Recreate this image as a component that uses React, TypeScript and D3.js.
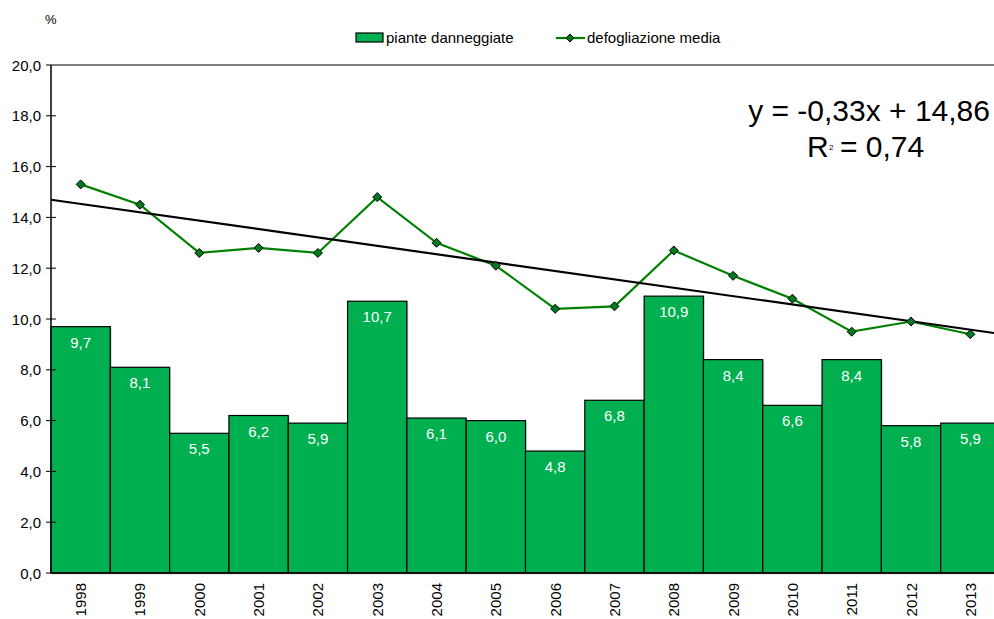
import React from "react";
import * as d3 from "d3";

const years = ["1998","1999","2000","2001","2002","2003","2004","2005","2006","2007","2008","2009","2010","2011","2012","2013"];
const piante = [9.7, 8.1, 5.5, 6.2, 5.9, 10.7, 6.1, 6.0, 4.8, 6.8, 10.9, 8.4, 6.6, 8.4, 5.8, 5.9];
const defogliazione = [15.3, 14.5, 12.6, 12.8, 12.6, 14.8, 13.0, 12.1, 10.4, 10.5, 12.7, 11.7, 10.8, 9.5, 9.9, 9.4];
const yTicks = [0, 2, 4, 6, 8, 10, 12, 14, 16, 18, 20];
const trendSlope = -0.33;
const trendIntercept = 14.86;

const W = 994, H = 619;
const left = 51, right = 1000, top = 65, bottom = 573;
const font = "Liberation Sans, Arial, sans-serif";
const fmt = (v: number) => v.toFixed(1).replace(".", ",");

export default function App() {
  const x = d3.scaleBand<string>().domain(years).range([left, right]).padding(0);
  const y = d3.scaleLinear().domain([0, 20]).range([bottom, top]);
  const cx = (i: number) => (x(years[i]) as number) + x.bandwidth() / 2;
  const line = d3.line<number>().x((_, i) => cx(i)).y((d) => y(d));
  const xLin = d3.scaleLinear().domain([0.5, 16.5]).range([left, right]);
  const trend = (t: number) => trendIntercept + trendSlope * t;
  const diamond = (px: number, py: number, r = 4.5) => `M${px},${py - r}L${px + r},${py}L${px},${py + r}L${px - r},${py}Z`;

  return (
    <svg width={W} height={H} style={{ position: "absolute", left: 0, top: 0 }} fontFamily={font}>
      <rect width={W} height={H} fill="#fff" />
      {/* bars */}
      {piante.map((v, i) => (
        <g key={years[i]}>
          <rect x={(x(years[i]) as number) + 1.5} y={y(v) + 1.5} width={x.bandwidth()} height={bottom - y(v)} fill="#bbb" opacity={0.6} />
          <rect x={x(years[i])} y={y(v)} width={x.bandwidth()} height={bottom - y(v)} fill="#00B050" stroke="#000" strokeWidth={1.2} />
          <text x={cx(i)} y={y(v) + 21} textAnchor="middle" fill="#fff" fontSize={15}>{fmt(v)}</text>
        </g>
      ))}
      {/* frame top */}
      <line x1={left} x2={W} y1={top} y2={top} stroke="#000" strokeWidth={1.2} />
      {/* y axis */}
      <line x1={left} x2={left} y1={top} y2={bottom} stroke="#000" strokeWidth={1.5} />
      <line x1={left} x2={W} y1={bottom} y2={bottom} stroke="#000" strokeWidth={1.5} />
      {yTicks.map((t) => (
        <g key={t}>
          <line x1={left - 5} x2={t === 0 || t === 20 ? left : left + 5} y1={y(t)} y2={y(t)} stroke="#000" strokeWidth={1} />
          <text x={left - 10} y={y(t) + 5.5} textAnchor="end" fontSize={15} fill="#000">{fmt(t)}</text>
        </g>
      ))}
      <text x={45} y={24} fontSize={13} fill="#000">%</text>
      {/* x labels */}
      {years.map((yr, i) => (
        <text key={yr} transform={`translate(${cx(i) + 5.5},${bottom + 10}) rotate(-90)`} textAnchor="end" fontSize={15} fill="#000">{yr}</text>
      ))}
      {/* defogliazione line */}
      <path d={line(defogliazione) || ""} fill="none" stroke="#008000" strokeWidth={2.2} />
      {/* trend line */}
      <line x1={left} x2={W} y1={y(trend(0.5))} y2={y(trend(xLin.invert(W)))} stroke="#000" strokeWidth={2.2} />
      {defogliazione.map((v, i) => (
        <path key={i} d={diamond(cx(i), y(v))} fill="#007A1E" stroke="#000" strokeWidth={1} />
      ))}
      {/* equation */}
      <text x={990} y={121} textAnchor="end" fontSize={30} fill="#000">y = -0,33x + 14,86</text>
      <text x={807} y={157} fontSize={30} fill="#000">R</text>
      <text x={829} y={150} fontSize={8} fill="#000">2</text>
      <text x={840} y={157} fontSize={30} fill="#000">= 0,74</text>
      {/* legend */}
      <rect x={356} y={33} width={27} height={9} fill="#00B050" stroke="#000" strokeWidth={1.2} />
      <text x={386} y={43} fontSize={15} fill="#000">piante danneggiate</text>
      <line x1={556} x2={585} y1={38} y2={38} stroke="#008000" strokeWidth={2.2} />
      <path d={diamond(570, 38, 4)} fill="#007A1E" stroke="#000" strokeWidth={1} />
      <text x={587} y={43} fontSize={15} fill="#000">defogliazione media</text>
    </svg>
  );
}
